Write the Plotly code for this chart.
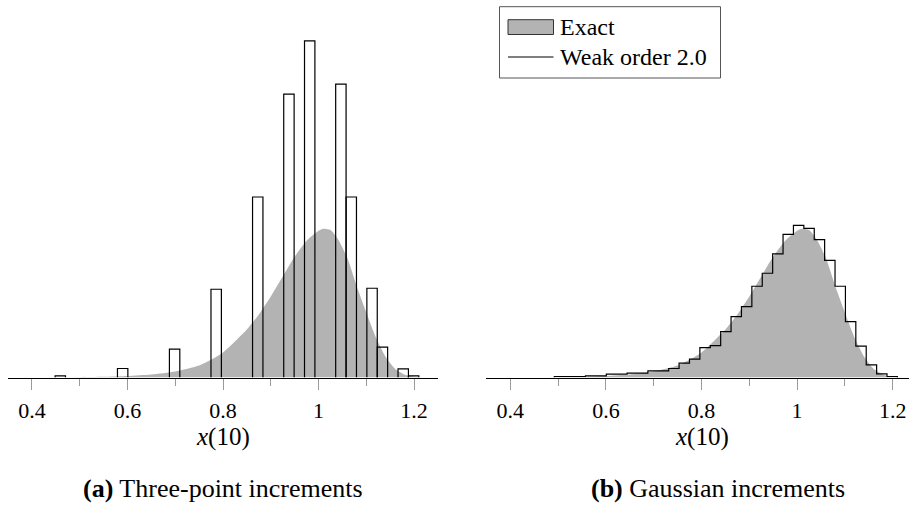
import plotly.graph_objects as go

# ---- data -------------------------------------------------------------
# exact density of x(10), sampled points
exact_x = [0.45, 0.50, 0.55, 0.60, 0.65, 0.70, 0.75, 0.775, 0.80, 0.825,
           0.85, 0.875, 0.90, 0.925, 0.95, 0.975, 1.00, 1.01, 1.025, 1.04,
           1.06, 1.08, 1.10, 1.12, 1.14, 1.16, 1.18, 1.20, 1.22]
exact_y = [0.0, 0.01, 0.02, 0.045, 0.09, 0.18, 0.36, 0.53, 0.75, 1.08,
           1.44, 1.89, 2.43, 3.03, 3.63, 4.11, 4.41, 4.47, 4.43, 4.17,
           3.60, 2.73, 1.95, 1.20, 0.63, 0.26, 0.085, 0.02, 0.0]

# common histogram bins
bin_start = 0.4486
bin_width = 0.02175

# (a) three-point increments: occupied bins and their densities
tp_bins = [0, 6, 11, 15, 19, 22, 24, 27, 28, 30, 31, 33, 34]
tp_dens = [0.05, 0.27, 0.85, 2.65, 5.42, 8.51, 10.11, 8.81, 5.42, 2.68, 0.91, 0.26, 0.05]

# (b) Gaussian increments: bins 2..34 and their densities
g_first_bin = 2
g_dens = [0.03, 0.03, 0.03, 0.05, 0.05, 0.10, 0.10, 0.13, 0.13, 0.20,
          0.20, 0.27, 0.43, 0.55, 0.90, 0.96, 1.38, 1.83, 2.13, 2.74,
          3.13, 3.71, 4.30, 4.57, 4.48, 4.14, 3.52, 2.74, 1.68, 0.94,
          0.38, 0.11, 0.03]

tick_vals = [0.4, 0.6, 0.8, 1.0, 1.2]
tick_text = ["0.4", "0.6", "0.8", "1", "1.2"]
axis_title = "<i>x</i>(10)"
captions = ["<b>(a)</b> Three-point increments", "<b>(b)</b> Gaussian increments"]
legend_labels = ["Exact", "Weak order 2.0"]

# ---- styling ----------------------------------------------------------
W, H = 909, 510
FONT = "Liberation Serif"
GREY = "#b3b3b3"
Y_TOP = 377.5 / 33.3          # density at the top of the plot area

def px_x(p):
    return p / W

def px_y(p):
    return 1 - p / H

fig = go.Figure()

# exact density, both panels
for xa, ya in (("x", "y"), ("x2", "y2")):
    fig.add_trace(go.Scatter(
        x=exact_x, y=exact_y, mode="lines", line=dict(width=0, shape="spline", smoothing=0.6),
        fill="tozeroy", fillcolor=GREY, xaxis=xa, yaxis=ya, hoverinfo="skip",
        showlegend=False))

# (a) outlined histogram bars
bx, by = [], []
for k, d in zip(tp_bins, tp_dens):
    left = bin_start + k * bin_width
    right = left + bin_width
    bx += [left, left, right, right, None]
    by += [0, d, d, 0, None]
fig.add_trace(go.Scatter(x=bx, y=by, mode="lines", line=dict(color="black", width=1.2),
                         xaxis="x", yaxis="y", showlegend=False, hoverinfo="skip"))

# (b) step histogram
sx = [bin_start + g_first_bin * bin_width]
sy = [0]
for i, d in enumerate(g_dens):
    sx.append(bin_start + (g_first_bin + i) * bin_width)
    sy.append(d)
sx.append(bin_start + (g_first_bin + len(g_dens)) * bin_width)
sy.append(0)
fig.add_trace(go.Scatter(x=sx, y=sy, mode="lines", line=dict(color="black", width=1.2, shape="hv"),
                         xaxis="x2", yaxis="y2", showlegend=False, hoverinfo="skip"))

xaxis_common = dict(
    tickmode="array", tickvals=tick_vals, ticktext=tick_text,
    ticks="outside", ticklen=11, tickwidth=1, tickcolor="#9a9a9a",
    minor=dict(dtick=0.1, tick0=0.4, ticks="outside", ticklen=7, tickwidth=1, tickcolor="#9a9a9a"),
    showline=True, linecolor="black", linewidth=1.3,
    showgrid=False, zeroline=False,
    tickfont=dict(family=FONT, size=22, color="black"),
    ticklabelstandoff=2,
)
yaxis_common = dict(range=[0, Y_TOP], domain=[px_y(377.5), 1], visible=False, fixedrange=True)

fig.update_layout(
    width=W, height=H, margin=dict(l=0, r=0, t=0, b=0),
    paper_bgcolor="white", plot_bgcolor="white",
    font=dict(family=FONT, size=22, color="black"),
    xaxis=dict(domain=[px_x(8), px_x(438)], range=[0.35, 1.25], anchor="y", **xaxis_common),
    yaxis=dict(anchor="x", **yaxis_common),
    xaxis2=dict(domain=[px_x(486.4), 1], range=[0.35, 0.35 + (W - 486.4) / 478], anchor="y2",
                **xaxis_common),
    yaxis2=dict(anchor="x2", **yaxis_common),
    showlegend=False,
)

annotations = []
for cx, cap in ((223, captions[0]), (718, captions[1])):
    annotations.append(dict(x=px_x(cx), y=px_y(488), xref="paper", yref="paper",
                            text=cap, showarrow=False, xanchor="center", yanchor="middle",
                            font=dict(family=FONT, size=26, color="black")))
for cx in (223, 701.5):
    annotations.append(dict(x=px_x(cx), y=px_y(437), xref="paper", yref="paper",
                            text=axis_title, showarrow=False, xanchor="center", yanchor="middle",
                            font=dict(family=FONT, size=25, color="black")))

# legend
shapes = [
    dict(type="rect", xref="paper", yref="paper", x0=px_x(499.5), x1=px_x(720.5),
         y0=px_y(78), y1=px_y(6.7), line=dict(color="#555555", width=1), fillcolor="white",
         layer="above"),
    dict(type="rect", xref="paper", yref="paper", x0=px_x(508), x1=px_x(553.5),
         y0=px_y(34.5), y1=px_y(19.7), line=dict(color="#333333", width=1), fillcolor=GREY,
         layer="above"),
    dict(type="line", xref="paper", yref="paper", x0=px_x(508), x1=px_x(553.5),
         y0=px_y(57), y1=px_y(57), line=dict(color="black", width=1.2), layer="above"),
]
for ty, lab in ((26.5, legend_labels[0]), (56.5, legend_labels[1])):
    annotations.append(dict(x=px_x(558), y=px_y(ty), xref="paper", yref="paper",
                            text=lab, showarrow=False, xanchor="left", yanchor="middle",
                            font=dict(family=FONT, size=24, color="black")))

fig.update_layout(annotations=annotations, shapes=shapes)
fig.write_html("out.html")
